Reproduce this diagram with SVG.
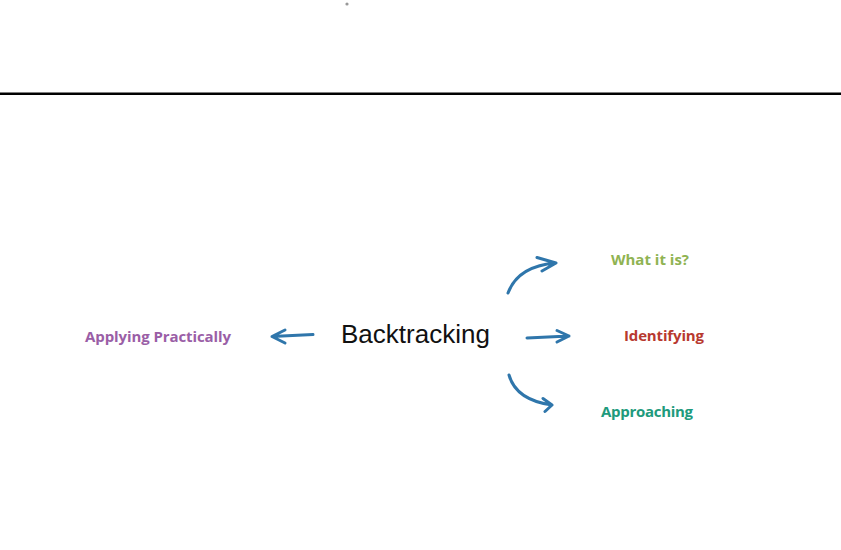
<svg xmlns="http://www.w3.org/2000/svg" width="841" height="550" viewBox="0 0 841 550">
<style>
.lbl{font-family:"Open Sans","DejaVu Sans",Verdana,sans-serif;font-weight:bold;font-size:15px}
.arr{fill:none;stroke:#2f76ab;stroke-width:3;stroke-linecap:round;stroke-linejoin:round}
</style>
<rect width="841" height="550" fill="#fff"/>
<circle cx="347" cy="4" r="1.6" fill="#999"/>
<rect x="0" y="92.5" width="841" height="2.5" fill="#000"/>
<g id="center"><text x="341" y="343" font-family="'Liberation Sans',Arial,sans-serif" font-size="26" fill="#111" textLength="149">Backtracking</text></g>
<g id="what"><text class="lbl" x="611" y="264.5" fill="#8fb352" textLength="78">What it is?</text></g>
<g id="identifying"><text class="lbl" x="624" y="340.5" fill="#b8392f" textLength="80">Identifying</text></g>
<g id="approaching"><text class="lbl" x="601" y="416.5" fill="#209a7c" textLength="92">Approaching</text></g>
<g id="applying"><text class="lbl" x="85" y="341.5" fill="#9a5ea6" textLength="146">Applying Practically</text></g>
<g id="connectors">
<path class="arr" d="M313 334.5 L272 336.5 M285 330 L272 336.5 L285 343"/>
<path class="arr" d="M527 338 L569 336 M557 330.5 L569 336 L557 342"/>
<path class="arr" d="M508 293 Q518 266 556 263 M537 257.5 L556 263 L542 271"/>
<path class="arr" d="M509 375 Q516 400 552 405 M543 398.5 L552 405 L545 411.5"/>
</g>
</svg>
